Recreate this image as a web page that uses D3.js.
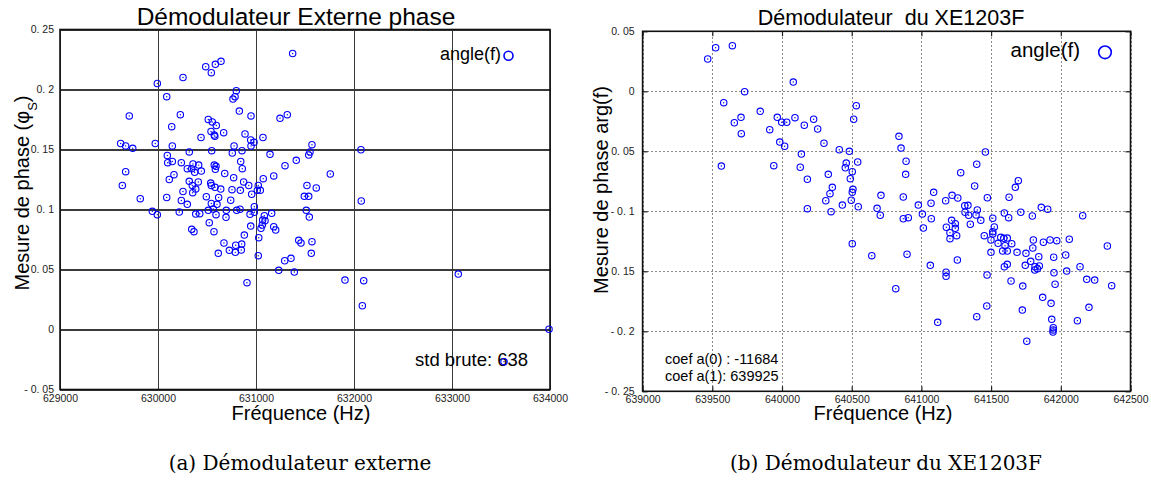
<!DOCTYPE html>
<html><head><meta charset="utf-8">
<script src="https://cdn.jsdelivr.net/npm/d3@7"></script>
<style>html,body{margin:0;padding:0;background:#fff}svg{display:block}</style>
</head><body>
<script>
// ---------- data : left chart (external demodulator) ----------
const extFreq = [631374,629993,630255,630487,630544,630585,630643,630089,630799,630786,630765,630830,629707,630228,630949,631245,631319,630140,630513,630554,630595,630541,630574,630580,630670,630439,630888,630946,630980,630949,631071,629619,629670,629742,629972,630146,630319,630548,630776,630857,630758,631143,631411,631296,630095,630099,630146,630238,630357,630415,630299,630344,630374,630442,630574,630592,630585,630681,630844,630860,630772,630874,630926,629670,630163,630115,629636,630319,630411,630350,630385,630354,630255,630538,630544,630582,630640,630755,630840,630956,631023,631013,631044,631074,631181,629819,630089,630238,630493,630619,630742,631571,631551,631538,631520,631615,631493,631538,631513,631544,630299,630544,630602,630564,630513,630697,630803,630837,630983,630983,630939,631085,631160,631068,631092,631064,631051,630946,631181,631201,629942,629993,630217,630385,630426,630592,630694,630523,630344,630367,630571,630881,631028,630673,630793,630854,630850,630789,630728,630615,631023,631436,631459,631571,631564,631357,631293,631232,631391,630908,632071,631758,632074,631908,632099,632085,633064,633990,633531];
const extPhase = [0.230,0.205,0.210,0.219,0.214,0.221,0.2235,0.194,0.199,0.194,0.192,0.182,0.178,0.179,0.178,0.176,0.179,0.169,0.175,0.173,0.170,0.165,0.162,0.161,0.164,0.160,0.163,0.158,0.156,0.153,0.160,0.155,0.153,0.151,0.155,0.153,0.148,0.149,0.153,0.149,0.147,0.146,0.141,0.1365,0.145,0.139,0.140,0.139,0.138,0.137,0.134,0.134,0.131,0.132,0.137,0.136,0.1335,0.130,0.140,0.134,0.1265,0.123,0.120,0.1315,0.129,0.125,0.120,0.1235,0.123,0.120,0.117,0.114,0.115,0.122,0.120,0.1185,0.117,0.1165,0.116,0.1127,0.120,0.116,0.116,0.1257,0.128,0.109,0.110,0.1075,0.1107,0.110,0.1077,0.154,0.148,0.1454,0.120,0.118,0.111,0.111,0.0993,0.0937,0.1043,0.105,0.1043,0.1004,0.0993,0.0993,0.0993,0.1002,0.1023,0.0977,0.096,0.0948,0.0968,0.0912,0.0907,0.0871,0.0843,0.0862,0.0857,0.0829,0.0985,0.0957,0.0979,0.0962,0.0965,0.0957,0.0935,0.089,0.0835,0.0815,0.0815,0.0787,0.0765,0.0721,0.0702,0.0712,0.0662,0.0643,0.066,0.0635,0.0615,0.0743,0.0721,0.0732,0.0635,0.0593,0.0573,0.0493,0.0479,0.039,0.1498,0.1296,0.1071,0.0412,0.0407,0.0198,0.0462,0.0002,-0.0268];
const extXTicks = [629000,630000,631000,632000,633000,634000];
const extXLabels = ["629000","630000","631000","632000","633000","634000"];
const extYTicks = [-0.05,0,0.05,0.1,0.15,0.2,0.25];
const extYLabels = ["- 0. 05","0","0. 05","0. 1","0. 15","0. 2","0. 25"];

// ---------- data : right chart (XE1203F) ----------
const xeFreq = [639467,639524,639644,640081,639732,639582,639844,639706,639658,639708,639912,639966,639998,640034,640093,640160,640227,640256,639984,640019,640301,640533,640514,640411,640483,640139,639565,639941,640131,640182,640332,640461,640454,640543,640504,640490,640361,640344,640314,640509,640504,640497,640433,640547,640182,640352,640710,640682,640705,640839,640854,640890,640887,640870,640870,640906,641459,641397,641282,641382,641088,641473,641695,641674,641629,641174,641220,641261,641069,640978,641007,641071,641311,641334,641401,641313,641339,641392,641217,641243,641426,641512,641351,641595,641626,641713,641796,641860,641906,642157,641014,641243,641179,641205,641205,641253,641451,641512,641523,641512,641499,641569,641591,641616,641550,641600,641648,641583,641616,641499,641686,641750,641799,641803,641875,641923,641971,642061,641842,641784,641745,641815,641813,641846,641832,641949,641951,641959,642035,642042,642138,642186,642243,642334,642365,641643,641727,641471,641595,641616,641870,641930,641935,641946,641945,641944,642119,642202,641724,641469,641397,641117,641756,640897,641064,641177,641177,641258,640504,640644,640816];
const xePhase = [0.0269,0.0363,0.038,0.0077,-0.0003,-0.0095,-0.0167,-0.0217,-0.0262,-0.0353,-0.032,-0.0217,-0.0258,-0.0258,-0.022,-0.0283,-0.0233,-0.0314,-0.0423,-0.0458,-0.0433,-0.012,-0.0233,-0.0487,-0.050,-0.0523,-0.0623,-0.062,-0.0633,-0.0733,-0.0692,-0.0598,-0.0637,-0.0589,-0.067,-0.0728,-0.080,-0.0853,-0.0912,-0.0817,-0.0842,-0.0908,-0.0948,-0.0962,-0.0978,-0.1003,-0.0867,-0.0975,-0.1033,-0.0375,-0.0473,-0.0583,-0.0692,-0.0881,-0.1062,-0.1053,-0.0506,-0.0608,-0.0678,-0.0789,-0.0842,-0.0887,-0.0745,-0.080,-0.0883,-0.0912,-0.0867,-0.0889,-0.0933,-0.0948,-0.1023,-0.1062,-0.0953,-0.095,-0.0989,-0.1008,-0.1033,-0.1031,-0.1075,-0.1103,-0.1075,-0.1058,-0.1108,-0.1014,-0.1053,-0.1008,-0.1039,-0.0967,-0.0983,-0.1037,-0.1139,-0.1142,-0.1133,-0.1178,-0.1228,-0.1203,-0.1203,-0.117,-0.1131,-0.1189,-0.1239,-0.1217,-0.1225,-0.1223,-0.1267,-0.1287,-0.127,-0.1331,-0.1331,-0.1342,-0.1342,-0.135,-0.1306,-0.1239,-0.1258,-0.1239,-0.1245,-0.1233,-0.1378,-0.1417,-0.145,-0.1462,-0.1489,-0.1456,-0.1478,-0.1383,-0.1512,-0.1608,-0.1364,-0.1498,-0.1462,-0.1567,-0.1573,-0.1289,-0.162,-0.1581,-0.1623,-0.1531,-0.1462,-0.1442,-0.1717,-0.1767,-0.190,-0.197,-0.1989,-0.2006,-0.1912,-0.180,-0.1823,-0.1789,-0.1878,-0.1925,-0.2083,-0.1358,-0.145,-0.1508,-0.1542,-0.1406,-0.127,-0.137,-0.1645];
const xeXTicks = [639000,639500,640000,640500,641000,641500,642000,642500];
const xeXLabels = ["639000","639500","640000","640500","641000","641500","642000","642500"];
const xeYTicks = [-0.25,-0.2,-0.15,-0.1,-0.05,0,0.05];
const xeYLabels = ["- 0. 25","- 0. 2","- 0. 15","- 0. 1","- 0. 05","0","0. 05"];

const SANS = "'Liberation Sans', Arial, sans-serif";
const SERIF = "'DejaVu Serif', 'Liberation Serif', serif";
const BLUE = "#0000ff";

const svg = d3.select("body").append("svg").attr("width",1151).attr("height",480);

function panel(cfg){
  const g = svg.append("g");
  const x = d3.scaleLinear().domain(cfg.xDom).range([cfg.left,cfg.right]);
  const y = d3.scaleLinear().domain(cfg.yDom).range([cfg.bottom,cfg.top]);
  const W = cfg.right-cfg.left, H = cfg.bottom-cfg.top;

  // grid
  const gx = g.append("g").attr("transform",`translate(0,${cfg.bottom})`)
    .call(d3.axisBottom(x).tickValues(cfg.xTicks).tickSize(-H).tickFormat(""));
  const gy = g.append("g").attr("transform",`translate(${cfg.left},0)`)
    .call(d3.axisLeft(y).tickValues(cfg.yTicks).tickSize(-W).tickFormat(""));
  [gx,gy].forEach(a=>{
    a.select(".domain").remove();
    a.selectAll("line").attr("stroke",cfg.gridColor).attr("stroke-width",cfg.gridWidth)
      .attr("stroke-dasharray",cfg.gridDash||null).attr("shape-rendering","crispEdges");
  });

  // inward ticks on borders
  if(cfg.innerTicks){
    const mk = (axis, tr) => {
      const a = g.append("g").attr("transform",tr).call(axis);
      a.select(".domain").remove();
      a.selectAll("line").attr("stroke","#222").attr("stroke-width",1.2);
      a.selectAll("text").remove();
    };
    mk(d3.axisBottom(x).tickValues(cfg.xTicks).tickSize(-5), `translate(0,${cfg.bottom})`);
    mk(d3.axisTop(x).tickValues(cfg.xTicks).tickSize(-5), `translate(0,${cfg.top})`);
    mk(d3.axisLeft(y).tickValues(cfg.yTicks).tickSize(-5), `translate(${cfg.left},0)`);
    mk(d3.axisRight(y).tickValues(cfg.yTicks).tickSize(-5), `translate(${cfg.right},0)`);
  }

  // border
  g.append("rect").attr("x",cfg.left).attr("y",cfg.top).attr("width",W).attr("height",H)
    .attr("fill","none").attr("stroke","#111").attr("stroke-width",1.6);

  // tick labels
  const lx = g.append("g").attr("transform",`translate(0,${cfg.bottom})`)
    .call(d3.axisBottom(x).tickValues(cfg.xTicks).tickSize(0).tickPadding(0)
      .tickFormat((d,i)=>cfg.xLabels[i]));
  lx.select(".domain").remove();
  lx.selectAll("text").attr("y",12).attr("dy","0").attr("font-family",SANS)
    .attr("font-size",10.5).attr("fill","#222");
  const ly = g.append("g").attr("transform",`translate(${cfg.left},0)`)
    .call(d3.axisLeft(y).tickValues(cfg.yTicks).tickSize(0).tickPadding(0)
      .tickFormat((d,i)=>cfg.yLabels[i]));
  ly.select(".domain").remove();
  ly.selectAll("text").attr("x",-cfg.yLabelGap).attr("font-family",SANS)
    .attr("font-size",10.5).attr("fill","#222").style("white-space","pre");

  // extra texts (drawn before points)
  (cfg.notes||[]).forEach(n=>{
    g.append("text").attr("x",n.x).attr("y",n.y).attr("font-family",SANS)
      .attr("font-size",n.size).attr("text-anchor",n.anchor||"start").attr("fill","#000").text(n.t);
  });

  // points
  const pts = d3.range(cfg.fx.length).map(i=>({f:cfg.fx[i],v:cfg.vy[i]}));
  const pg = g.append("g");
  pg.selectAll("circle.o").data(pts).join("circle").attr("class","o")
    .attr("cx",d=>x(d.f)).attr("cy",d=>y(d.v)).attr("r",3.2)
    .attr("fill","none").attr("stroke",BLUE).attr("stroke-width",1.1);
  pg.selectAll("circle.c").data(pts).join("circle").attr("class","c")
    .attr("cx",d=>x(d.f)).attr("cy",d=>y(d.v)).attr("r",0.7).attr("fill",BLUE);

  // legend
  g.append("text").attr("x",cfg.legX).attr("y",cfg.legY).attr("text-anchor","end")
    .attr("font-family",SANS).attr("font-size",cfg.legSize).text("angle(f)");
  g.append("circle").attr("cx",cfg.legCx).attr("cy",cfg.legCy).attr("r",cfg.legR)
    .attr("fill","none").attr("stroke",BLUE).attr("stroke-width",1.6);

  // title
  g.append("text").attr("x",cfg.titleX).attr("y",25).attr("text-anchor","middle")
    .attr("font-family",SANS).attr("font-size",cfg.titleSize).style("white-space","pre").text(cfg.title);

  // x label
  g.append("text").attr("x",cfg.xLabX).attr("y",420).attr("text-anchor","middle")
    .attr("font-family",SANS).attr("font-size",20).text("Fréquence (Hz)");

  // y label
  const yl = g.append("text").attr("transform",`translate(${cfg.yLabX},${cfg.yLabY}) rotate(-90)`)
    .attr("text-anchor","middle").attr("font-family",SANS).attr("font-size",20);
  cfg.yLabParts.forEach(p=>{
    const t = yl.append("tspan").text(p.t);
    if(p.sub) t.attr("font-size",13).attr("baseline-shift","sub");
  });

  // caption
  g.append("text").attr("x",cfg.capX).attr("y",470).attr("text-anchor","middle")
    .attr("font-family",SERIF).attr("font-size",20).text(cfg.caption);
}

panel({
  xDom:[629000,634000], yDom:[-0.05,0.25], left:60, right:550, top:29.5, bottom:389.5,
  xTicks:extXTicks, xLabels:extXLabels, yTicks:extYTicks, yLabels:extYLabels, yLabelGap:6,
  gridColor:"#3a3a3a", gridWidth:1.4, gridDash:null, innerTicks:false,
  fx:extFreq, vy:extPhase,
  notes:[{x:415,y:366,size:18.5,t:"std brute: 638"}],
  legX:501, legY:60, legSize:18, legCx:508.5, legCy:55.7, legR:4.5,
  title:"Démodulateur Externe phase", titleX:296, titleSize:24.5,
  xLabX:301, yLabX:29, yLabY:193,
  yLabParts:[{t:"Mesure de phase (φ"},{t:"S",sub:true},{t:")"}],
  caption:"(a) Démodulateur externe", capX:300
});

panel({
  xDom:[639000,642500], yDom:[-0.25,0.05], left:642.6, right:1130.5, top:31.3, bottom:391.3,
  xTicks:xeXTicks, xLabels:xeXLabels, yTicks:xeYTicks, yLabels:xeYLabels, yLabelGap:8,
  gridColor:"#8a8a8a", gridWidth:1, gridDash:"2,2", innerTicks:true,
  fx:xeFreq, vy:xePhase,
  notes:[{x:665,y:364,size:14.5,t:"coef a(0) : -11684"},{x:665,y:380.7,size:14.5,t:"coef a(1): 639925"}],
  legX:1080, legY:57, legSize:20.5, legCx:1105, legCy:52.3, legR:6.3,
  title:"Démodulateur\u00a0\u00a0du XE1203F", titleX:891, titleSize:21.5,
  xLabX:883, yLabX:608, yLabY:190,
  yLabParts:[{t:"Mesure de phase arg(f)"}],
  caption:"(b) Démodulateur du XE1203F", capX:886
});
</script>
</body></html>
